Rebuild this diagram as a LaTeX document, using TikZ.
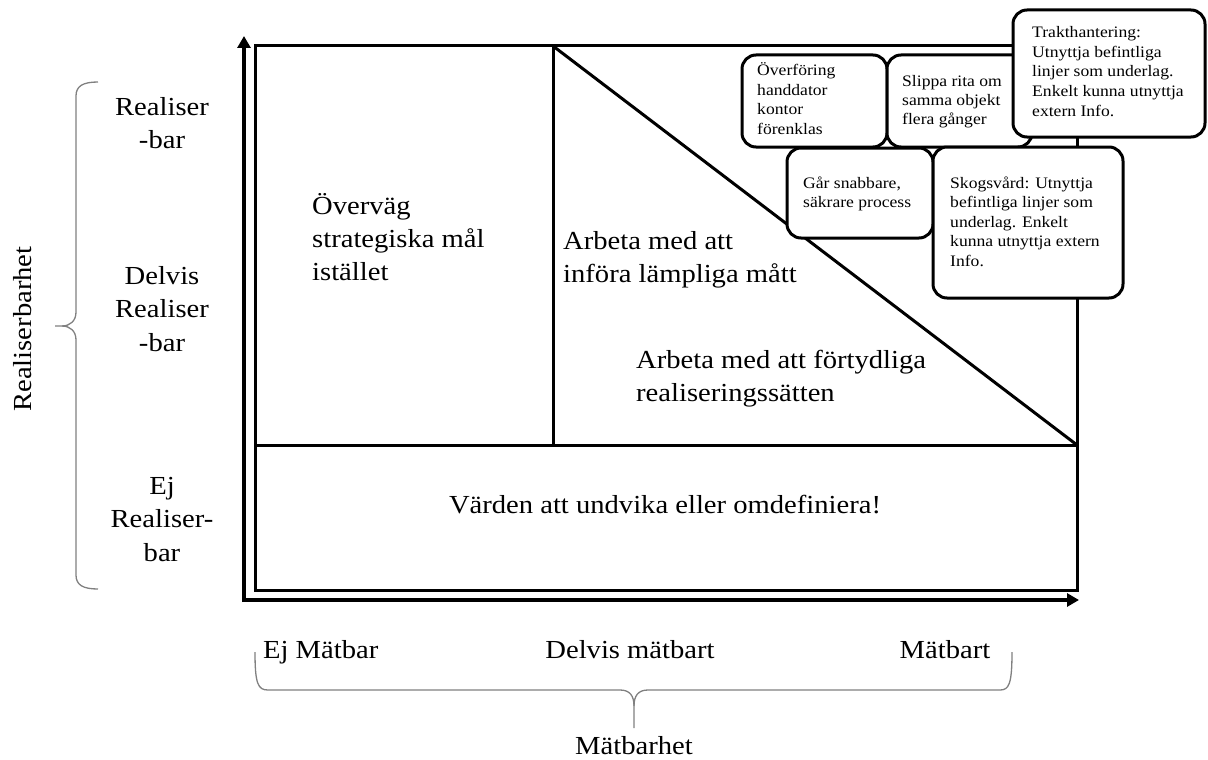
\documentclass[tikz,border=0pt]{standalone}
\usepackage{fontspec}
\setmainfont{Liberation Serif}[FakeStretch=1.1]
\usetikzlibrary{arrows.meta}

% multi-line text blocks whose baseline is the first line
\newcommand\leftlines[1]{\begin{tabular}[t]{@{}l@{}}#1\end{tabular}}
\newcommand\midlines[1]{\begin{tabular}[t]{@{}c@{}}#1\end{tabular}}

\tikzset{
  frameline/.style={line width=3pt, line cap=rect},
  axisline/.style={line width=4pt, -{Triangle[length=12pt,width=13pt]}},
  bracket/.style={draw=gray, line width=1.3pt},
  bigtext/.style={inner sep=0pt, font=\fontsize{26}{33}\selectfont},
  sidetext/.style={inner sep=0pt, font=\fontsize{26}{33.5}\selectfont},
  notebox/.style={draw, fill=white, line width=3pt, rounded corners=14pt, inner sep=0pt},
  notetext/.style={inner sep=0pt, font=\fontsize{16}{19.5}\selectfont},
}

\begin{document}
\begin{tikzpicture}[x=1pt, y=-1pt]
\useasboundingbox (0,0) rectangle (1208,760);

% axes
\coordinate (O) at (244,600);
\coordinate (ytip) at (244,36);
\coordinate (xtip) at (1079,600);
\draw[axisline] ([yshift=-2pt]O) -- (ytip);
\draw[axisline] ([xshift=-2pt]O) -- (xtip);

% matrix frame and its partitions
\coordinate (tl) at (255,46);
\coordinate (br) at (1077,590);
\coordinate (ml) at (255,445);
\coordinate (mr) at (1077,445);
\coordinate (vt) at (553,46);
\coordinate (vb) at (553,445);
\draw[frameline] (tl) rectangle (br);
\draw[frameline] (ml) -- (mr);
\draw[frameline] (vt) -- (vb);
\draw[frameline, line cap=butt] (vt) -- (mr);

% texts of the cells
\node[bigtext, anchor=base west] (cellA) at (312,214) {\leftlines{Överväg\\strategiska mål\\istället}};
\node[bigtext, anchor=base west] (cellB) at (563,249) {\leftlines{Arbeta med att\\införa lämpliga mått}};
\node[bigtext, anchor=base west] (cellC) at (636,368) {\leftlines{Arbeta med att förtydliga\\realiseringssätten}};
\node[bigtext, anchor=base] (cellD) at (665,513) {Värden att undvika eller omdefiniera!};

% vertical scale
\node[sidetext, anchor=base] (r1) at (162,115) {\midlines{Realiser\\-bar}};
\node[sidetext, anchor=base] (r2) at (162,284) {\midlines{Delvis\\Realiser\\-bar}};
\node[sidetext, anchor=base] (r3) at (162,494) {\midlines{Ej\\Realiser-\\bar}};
\node[sidetext, rotate=90] (rtitle) at (23,329) {Realiserbarhet};
\coordinate (lbtop) at (98,82);
\coordinate (lbbot) at (98,589);
\coordinate (lbtip) at (55,326);
\draw[bracket] (lbtop) .. controls (83,82) and (76,86) .. (76,96) -- (76,312)
  .. controls (76,321) and (70,326) .. (62,326) -- (lbtip);
\draw[bracket] (lbbot) .. controls (83,589) and (76,585) .. (76,575) -- (76,340)
  .. controls (76,331) and (70,326) .. (62,326);

% horizontal scale
\node[sidetext, anchor=base west] (m1) at (263,658) {Ej Mätbar};
\node[sidetext, anchor=base] (m2) at (630,658) {Delvis mätbart};
\node[sidetext, anchor=base] (m3) at (945,658) {Mätbart};
\node[sidetext, anchor=base] (mtitle) at (634,754) {Mätbarhet};
\coordinate (bbl) at (255,652);
\coordinate (bbr) at (1012,652);
\coordinate (bbtip) at (634,728);
\draw[bracket] (bbl) .. controls (255,684) and (258,690) .. (268,690) -- (620,690)
  .. controls (630,690) and (634,696) .. (634,706) -- (bbtip);
\draw[bracket] (bbr) .. controls (1012,684) and (1009,690) .. (1000,690) -- (648,690)
  .. controls (638,690) and (634,696) .. (634,706);

% notes
\node[notebox, minimum width=145pt, minimum height=92pt] (nA) at (814.5,101) {};
\node[notetext, anchor=base west] (tA) at (757,76) {\leftlines{Överföring\\handdator\\kontor\\förenklas}};
\node[notebox, minimum width=145pt, minimum height=92pt] (nB) at (959.5,101) {};
\node[notetext, anchor=base west] (tB) at (902,86) {\leftlines{Slippa rita om\\samma objekt\\flera gånger}};
\node[notebox, minimum width=192pt, minimum height=127pt] (nC) at (1109,73.5) {};
\node[notetext, anchor=base west] (tC) at (1032,38) {\leftlines{Trakthantering:\\Utnyttja befintliga\\linjer som underlag.\\Enkelt kunna utnyttja\\extern Info.}};
\node[notebox, minimum width=146pt, minimum height=90pt] (nD) at (860,193) {};
\node[notetext, anchor=base west] (tD) at (803,188) {\leftlines{Går snabbare,\\säkrare process}};
\node[notebox, minimum width=190pt, minimum height=151pt] (nE) at (1028,222.5) {};
\node[notetext, anchor=base west] (tE) at (950,188) {\leftlines{Skogsvård: Utnyttja\\befintliga linjer som\\underlag. Enkelt\\kunna utnyttja extern\\Info.}};
\end{tikzpicture}
\end{document}
